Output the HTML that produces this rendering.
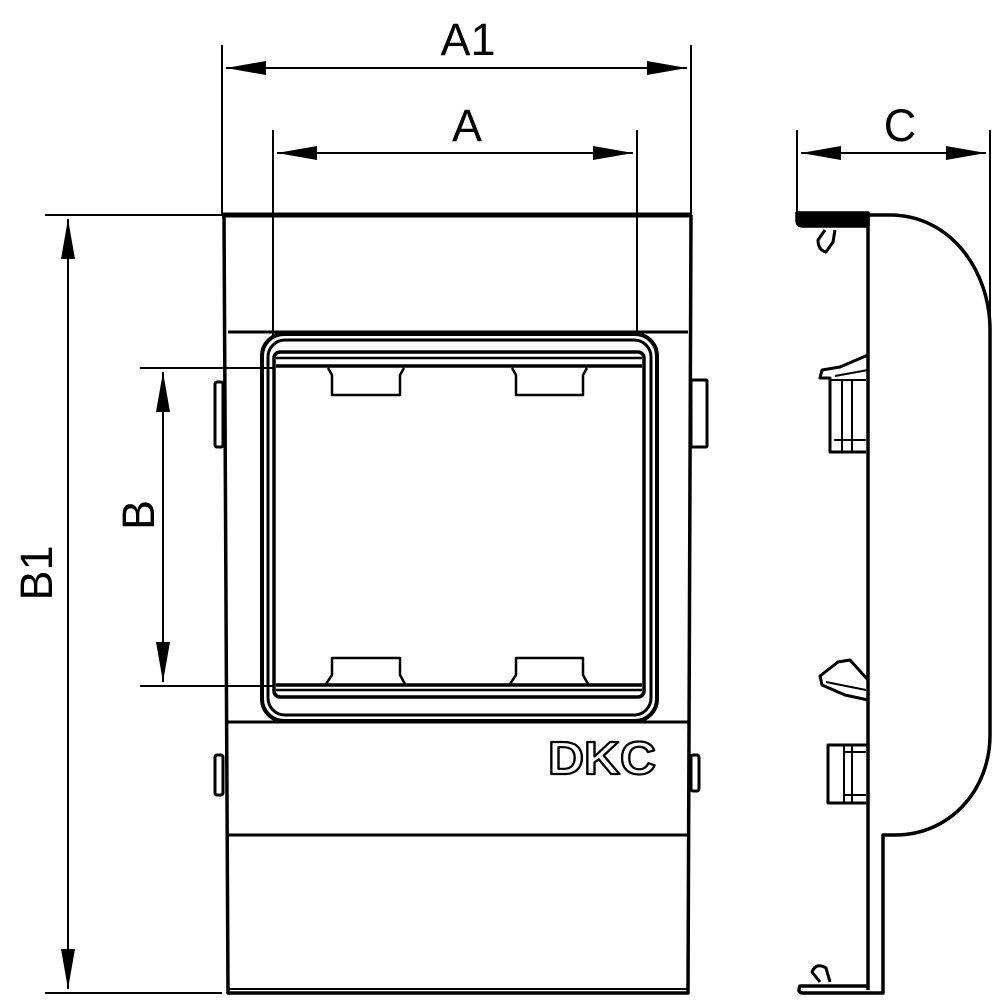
<!DOCTYPE html>
<html><head><style>html,body{margin:0;padding:0;background:#fff}svg{display:block}</style></head>
<body>
<svg width="1000" height="1000" viewBox="0 0 1000 1000" xmlns="http://www.w3.org/2000/svg" fill="none" stroke="#000" stroke-linejoin="round">
<defs>
<marker id="ar" viewBox="0 0 40 14" refX="40" refY="7" markerWidth="40" markerHeight="14" markerUnits="userSpaceOnUse" orient="auto-start-reverse"><path d="M0,0 L40,7 L0,14 Z" fill="#000" stroke="none"/></marker>
</defs>
<g font-family="Liberation Sans, sans-serif" font-size="45" fill="#000" stroke="none" text-anchor="middle">
<text x="468" y="55">A1</text>
<text x="467" y="141">A</text>
<text x="900" y="141">C</text>
<text transform="translate(52,573) rotate(-90)">B1</text>
<text transform="translate(154,515) rotate(-90)">B</text>
</g>
<g stroke-width="2">
<line x1="222" y1="45" x2="222" y2="215"/><line x1="691" y1="45" x2="691" y2="215"/>
<line x1="226" y1="68" x2="687" y2="68" marker-start="url(#ar)" marker-end="url(#ar)"/>
<line x1="273" y1="130" x2="273" y2="335"/><line x1="637" y1="130" x2="637" y2="335"/>
<line x1="277" y1="153" x2="633" y2="153" marker-start="url(#ar)" marker-end="url(#ar)"/>
<line x1="45" y1="215" x2="222" y2="215"/>
<line x1="45" y1="993" x2="222" y2="993"/>
<line x1="68" y1="219" x2="68" y2="989" marker-start="url(#ar)" marker-end="url(#ar)"/>
<line x1="140" y1="368" x2="275" y2="368"/><line x1="140" y1="686" x2="275" y2="686"/>
<line x1="163" y1="372" x2="163" y2="682" marker-start="url(#ar)" marker-end="url(#ar)"/>
<line x1="797" y1="130" x2="797" y2="215"/><line x1="990" y1="130" x2="990" y2="330"/>
<line x1="801" y1="153" x2="986" y2="153" marker-start="url(#ar)" marker-end="url(#ar)"/>
</g>
<g stroke-width="3.5">
<line x1="222" y1="215" x2="691" y2="215" stroke-width="5"/>
<path d="M224,215 L228,993 L688,993 L691,215"/>
<line x1="228" y1="989" x2="688" y2="989" stroke-width="2"/>
<line x1="228" y1="332" x2="688" y2="332" stroke-width="3"/>
<line x1="228" y1="722" x2="688" y2="722" stroke-width="3"/>
<line x1="228" y1="835" x2="688" y2="835" stroke-width="3"/>
</g>
<g stroke-width="3">
<rect x="215" y="382" width="8" height="65" rx="2"/>
<rect x="215" y="755" width="8" height="40" rx="2"/>
<rect x="691" y="380" width="16" height="67" rx="1"/>
<rect x="691" y="755" width="8" height="36" rx="2"/>
</g>
<g stroke-width="4">
<rect x="262" y="334" width="395" height="387" rx="22"/>
<rect x="268" y="340" width="383" height="375" rx="17" stroke-width="3"/>
<rect x="274" y="352" width="370" height="345" rx="6" stroke-width="3.5"/>
<line x1="276" y1="358" x2="642" y2="358" stroke-width="2.5"/>
<line x1="276" y1="366" x2="642" y2="366" stroke-width="3.5"/>
<line x1="276" y1="685" x2="642" y2="685" stroke-width="3.5"/>
<line x1="276" y1="690" x2="642" y2="690" stroke-width="2.5"/>
</g>
<g stroke-width="2.5">
<path d="M328,368 L332,375 L332,395 L400,395 L400,375 L404,368"/>
<path d="M512,368 L516,375 L516,395 L583,395 L583,375 L587,368"/>
<path d="M326,684 L332,675 L332,658 L400,658 L400,675 L405,684"/>
<path d="M510,684 L516,675 L516,658 L583,658 L583,675 L588,684"/>
</g>
<text x="602" y="774" font-family="Liberation Sans, sans-serif" font-weight="bold" font-size="46" text-anchor="middle" fill="#fff" stroke="#000" stroke-width="2.2" textLength="108" lengthAdjust="spacingAndGlyphs">DKC</text>
<g stroke-width="3.5">
<path d="M868,215 L890,215 C950,215 990,270 990,330 L990,735 C990,790 950,835 895,835 L883,835 L883,993 L803,993 Q797,993 800,986 L868,986"/>
<path d="M797,213 L868,213 L868,226 L803,226 Q797,226 797,220 Z" fill="#000"/>
<line x1="868" y1="215" x2="868" y2="990"/>
<path d="M825,230 L818,240 Q818,250 826,252 L833,242 L835,230" stroke-width="3"/>
<path d="M820,982 L812,972 Q816,962 826,968 L830,982" stroke-width="3"/>
<path d="M868,355 L840,367 L822,370 L820,378 L830,378 L830,452 L866,452" stroke-width="3"/>
<path d="M835,376 L868,370 M830,380 L866,380 M842,380 L842,452 M852,380 L852,452 M834,440 L866,440" stroke-width="2"/>
<path d="M868,700 L845,695 L822,685 L820,676 L838,662 L850,660 L868,680" stroke-width="3"/>
<path d="M826,682 L866,690" stroke-width="2"/>
<rect x="828" y="745" width="40" height="58" stroke-width="3"/>
<path d="M844,745 L844,803 M852,745 L852,803 M844,752 L866,752 M844,795 L866,795" stroke-width="2"/>
</g>
</svg>
</body></html>
